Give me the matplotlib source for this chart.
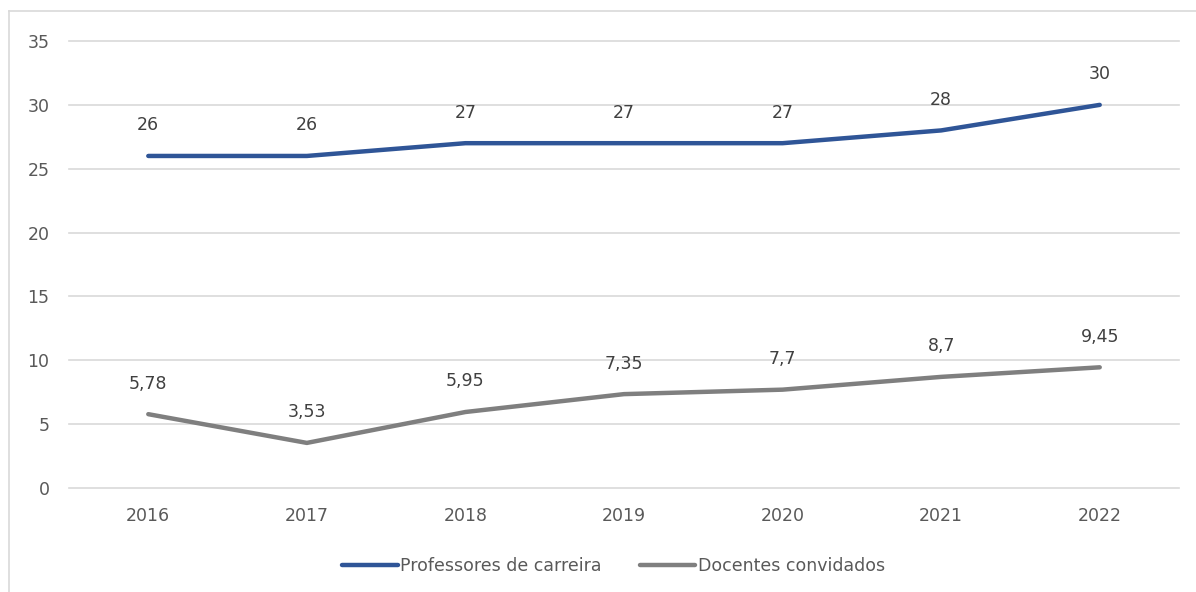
import matplotlib.pyplot as plt
from matplotlib.lines import Line2D

# data
years = ['2016', '2017', '2018', '2019', '2020', '2021', '2022']
professores = [26, 26, 27, 27, 27, 28, 30]
docentes = [5.78, 3.53, 5.95, 7.35, 7.7, 8.7, 9.45]
prof_labels = ['26', '26', '27', '27', '27', '28', '30']
doc_labels = ['5,78', '3,53', '5,95', '7,35', '7,7', '8,7', '9,45']

plt.rcParams['font.family'] = ['DejaVu Sans']
txt = '#595959'
c_prof = '#2F5597'
c_doc = '#7F7F7F'

fig = plt.figure(figsize=(11.96, 5.92), dpi=100)
ax = fig.add_axes([0.0577, 0.1757, 0.9281, 0.755])

x = list(range(len(years)))
ax.plot(x, professores, color=c_prof, lw=3.2, solid_capstyle='round', label='Professores de carreira')
ax.plot(x, docentes, color=c_doc, lw=3.2, solid_capstyle='round', label='Docentes convidados')

for xi, v, s in zip(x, professores, prof_labels):
    ax.annotate(s, (xi, v), xytext=(0, 22), textcoords='offset points',
                ha='center', va='center', fontsize=12.5, color='#404040')
for xi, v, s in zip(x, docentes, doc_labels):
    ax.annotate(s, (xi, v), xytext=(0, 22), textcoords='offset points',
                ha='center', va='center', fontsize=12.5, color='#404040')

ax.set_xlim(-0.5, len(years) - 0.5)
ax.set_ylim(0, 35)
ax.set_yticks(range(0, 36, 5))
ax.set_xticks(x)
ax.set_xticklabels(years)
ax.grid(axis='y', color='#D9D9D9', lw=1.2)
for gl in ax.get_ygridlines():
    gl.set_clip_on(False)
ax.set_axisbelow(True)
for sp in ax.spines.values():
    sp.set_visible(False)
ax.tick_params(length=0, labelsize=12.5, colors=txt)
ax.tick_params(axis='y', pad=14)
ax.tick_params(axis='x', pad=14)

leg = fig.legend(loc='center', bbox_to_anchor=(0.513, 0.044), ncol=2, frameon=False,
                 fontsize=12.5, handlelength=3.2, handletextpad=0.15, columnspacing=2.2)
for t in leg.get_texts():
    t.set_color(txt)

# chart area border (top and left visible)
fig.add_artist(Line2D([9 / 1196, 1.0], [1 - 11 / 592, 1 - 11 / 592], color='#D9D9D9', lw=1.2,
                      transform=fig.transFigure))
fig.add_artist(Line2D([9 / 1196, 9 / 1196], [0, 1 - 11 / 592], color='#D9D9D9', lw=1.2,
                      transform=fig.transFigure))

fig.savefig('out.png', dpi=100)
